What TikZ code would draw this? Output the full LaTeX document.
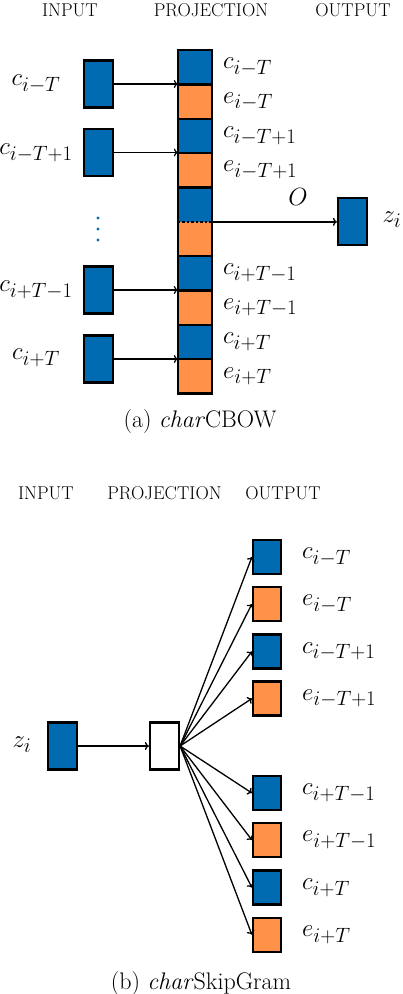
\documentclass[tikz,border=0pt]{standalone}
\usetikzlibrary{arrows.meta}
\definecolor{cblue}{RGB}{0,107,176}
\definecolor{corange}{RGB}{255,146,72}
\DeclareMathSizes{27}{27}{22}{17}
\begin{document}
\begin{tikzpicture}[x=1pt,y=-1pt,
  cell/.style={rectangle, inner sep=0, minimum width=34pt, minimum height=34.33pt},
  inbox/.style={rectangle, draw, line width=2.2pt, fill=cblue, inner sep=0, minimum width=29pt, minimum height=47pt},
  obox/.style={rectangle, draw, line width=2.2pt, inner sep=0, minimum width=28pt, minimum height=34pt},
  arr/.style={line width=1.3pt, -{To[length=4pt,width=8pt]}},
  hdr/.style={font=\fontsize{18.5}{21}\selectfont},
  lbl/.style={font=\fontsize{27}{30}\selectfont, inner sep=0pt},
  captext/.style={font=\fontsize{24}{27}\selectfont},
  colline/.style={line width=2.5pt}]
\useasboundingbox (0,0) rectangle (402,994);

% ---------- (a) charCBOW ----------
\node[hdr] (ha1) at (70,10) {INPUT};
\node[hdr] (ha2) at (211,10) {PROJECTION};
\node[hdr] (ha3) at (353,10) {OUTPUT};

\foreach \k in {1,...,10}{
  \pgfmathsetmacro{\yy}{50+34.33*(\k-0.5)}
  \ifodd\k
    \node[cell, fill=cblue] (p\k) at (195,\yy) {};
  \else
    \node[cell, fill=corange] (p\k) at (195,\yy) {};
  \fi
}
\foreach \k in {1,2,3,4,6,7,8,9}{
  \draw[colline] (p\k.south west) -- (p\k.south east);
}
\draw[colline, dotted] (p5.south west) -- (p5.south east);
\draw[colline] (p1.north west) rectangle (p10.south east);

\node[inbox] (i1) at (98.5,84) {};
\node[inbox] (i2) at (98.5,152.5) {};
\node[inbox] (i3) at (98.5,290) {};
\node[inbox] (i4) at (98.5,359) {};
\foreach \k in {1,...,4}{
  \draw[arr] (i\k.east) -- (i\k.east -| p1.west);
}

\node[lbl] (li1) at (36,84) {$c_{i-T}$};
\node[lbl] (li2) at (36,153) {$c_{i-T+1}$};
\node[lbl] (li3) at (36,290) {$c_{i+T-1}$};
\node[lbl] (li4) at (36,358) {$c_{i+T}$};

\fill[cblue] (98,218) circle (1.6);
\fill[cblue] (98,229) circle (1.6);
\fill[cblue] (98,240) circle (1.6);

\node[lbl, anchor=west] (r1) at (p1.center -| 223,0) {$c_{i-T}$};
\node[lbl, anchor=west] (r2) at (p2.center -| 223,0) {$e_{i-T}$};
\node[lbl, anchor=west] (r3) at (p3.center -| 223,0) {$c_{i-T+1}$};
\node[lbl, anchor=west] (r4) at (p4.center -| 223,0) {$e_{i-T+1}$};
\node[lbl, anchor=west] (r7) at (p7.center -| 223,0) {$c_{i+T-1}$};
\node[lbl, anchor=west] (r8) at (p8.center -| 223,0) {$e_{i+T-1}$};
\node[lbl, anchor=west] (r9) at (p9.center -| 223,0) {$c_{i+T}$};
\node[lbl, anchor=west] (r10) at (p10.center -| 223,0) {$e_{i+T}$};

\node[inbox] (za) at (352.5,221.5) {};
\draw[arr] (p5.south east) -- (p5.south east -| za.west);
\node[lbl] (lo) at (298,197) {$O$};
\node[lbl] (lza) at (392,220) {$z_i$};

\node[captext] (capa) at (200,422) {(a) \textit{char}CBOW};

% ---------- (b) charSkipGram ----------
\node[hdr] (hb1) at (46,493) {INPUT};
\node[hdr] (hb2) at (164.5,493) {PROJECTION};
\node[hdr] (hb3) at (283,493) {OUTPUT};

\node[inbox] (zb) at (62.5,746) {};
\node[lbl] (lzb) at (22,745) {$z_i$};
\node[inbox, fill=white] (pb) at (164.5,746) {};
\draw[arr] (zb.east) -- (pb.west);

\node[obox, fill=cblue]   (o1) at (267,557) {};
\node[obox, fill=corange] (o2) at (267,604) {};
\node[obox, fill=cblue]   (o3) at (267,651.5) {};
\node[obox, fill=corange] (o4) at (267,698.5) {};
\node[obox, fill=cblue]   (o5) at (267,793) {};
\node[obox, fill=corange] (o6) at (267,840) {};
\node[obox, fill=cblue]   (o7) at (267,887.5) {};
\node[obox, fill=corange] (o8) at (267,934.7) {};
\foreach \k in {1,...,8}{
  \draw[arr] (pb.east) -- (o\k.west);
}

\node[lbl, anchor=west] (s1) at (o1.center -| 302,0) {$c_{i-T}$};
\node[lbl, anchor=west] (s2) at (o2.center -| 302,0) {$e_{i-T}$};
\node[lbl, anchor=west] (s3) at (o3.center -| 302,0) {$c_{i-T+1}$};
\node[lbl, anchor=west] (s4) at (o4.center -| 302,0) {$e_{i-T+1}$};
\node[lbl, anchor=west] (s5) at (o5.center -| 302,0) {$c_{i+T-1}$};
\node[lbl, anchor=west] (s6) at (o6.center -| 302,0) {$e_{i+T-1}$};
\node[lbl, anchor=west] (s7) at (o7.center -| 302,0) {$c_{i+T}$};
\node[lbl, anchor=west] (s8) at (o8.center -| 302,0) {$e_{i+T}$};

\node[captext] (capb) at (201,983) {(b) \textit{char}SkipGram};
\end{tikzpicture}
\end{document}
